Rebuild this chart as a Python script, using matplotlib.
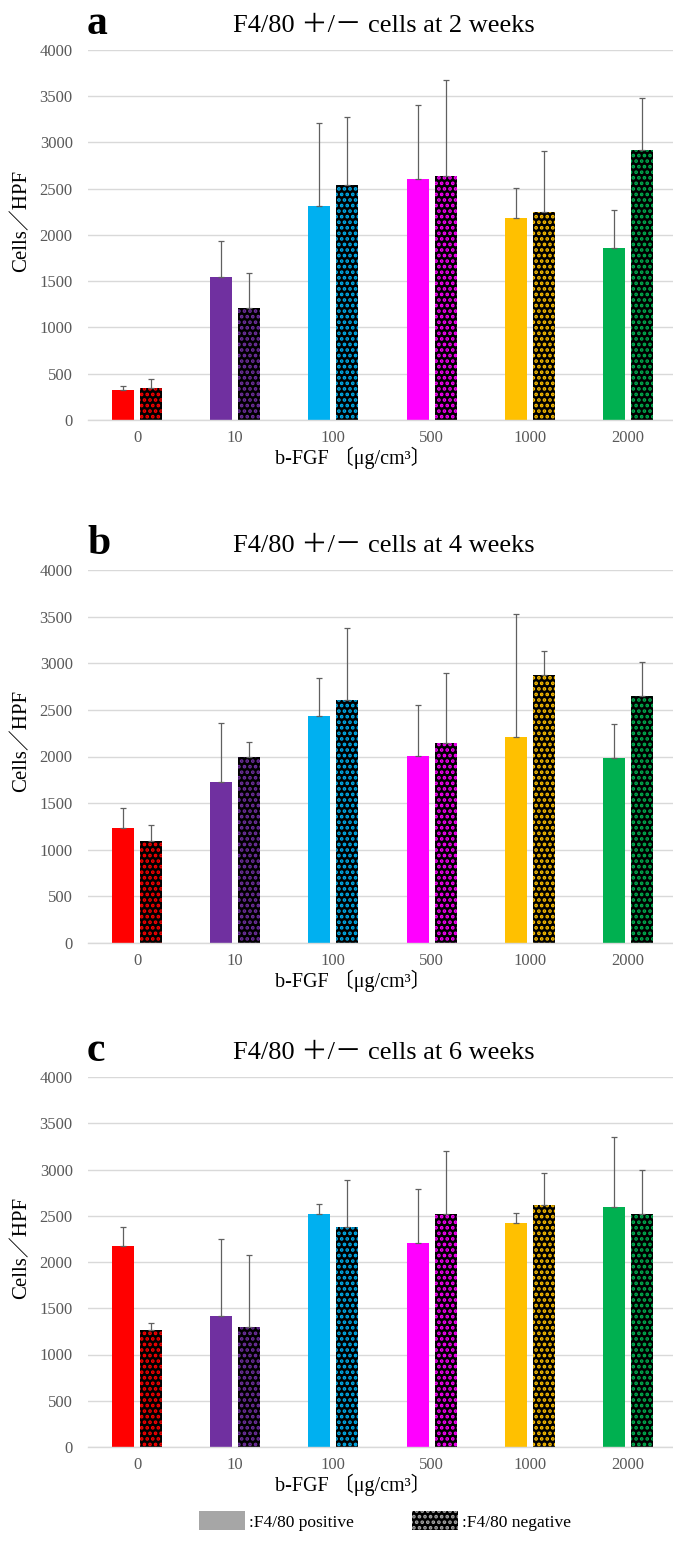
import matplotlib
matplotlib.use('Agg')
import matplotlib.pyplot as plt
from matplotlib.patches import Patch
import numpy as np

plt.rcParams['font.family'] = ['Liberation Serif', 'Noto Sans CJK JP']
plt.rcParams['hatch.linewidth'] = 1.8

# Data
doses = ['0', '10', '100', '500', '1000', '2000']
colors = ['#FF0000', '#7030A0', '#00B0F0', '#FF00FF', '#FFC000', '#00B050']
weeks = ['2', '4', '6']
panel_letters = ['a', 'b', 'c']

pos_2w = [320, 1550, 2310, 2600, 2180, 1860]
pos_2w_top = [370, 1930, 3210, 3400, 2510, 2270]
neg_2w = [350, 1210, 2540, 2640, 2250, 2920]
neg_2w_top = [440, 1590, 3280, 3680, 2910, 3480]

pos_4w = [1230, 1730, 2430, 2010, 2210, 1980]
pos_4w_top = [1450, 2360, 2840, 2550, 3530, 2350]
neg_4w = [1090, 1990, 2610, 2140, 2870, 2650]
neg_4w_top = [1270, 2160, 3380, 2900, 3130, 3010]

pos_6w = [2170, 1420, 2520, 2210, 2420, 2590]
pos_6w_top = [2380, 2250, 2630, 2790, 2530, 3350]
neg_6w = [1260, 1300, 2380, 2520, 2620, 2520]
neg_6w_top = [1340, 2080, 2890, 3200, 2960, 2990]

panels = [
    (pos_2w, pos_2w_top, neg_2w, neg_2w_top),
    (pos_4w, pos_4w_top, neg_4w, neg_4w_top),
    (pos_6w, pos_6w_top, neg_6w, neg_6w_top),
]

W, H = 673, 1542
fig = plt.figure(figsize=(W / 100, H / 100), dpi=100)

# pixel layout of each panel: (top of plot, bottom of plot)
panel_px = [(50, 420), (570, 943), (1077, 1447)]
left_px, right_px = 88, 677

x = np.arange(len(doses))
bw = 0.225
off = 0.143
tick_col = '#595959'
err_col = '#606060'

for i, (pos, pos_top, neg, neg_top) in enumerate(panels):
    top, bot = panel_px[i]
    ax = fig.add_axes([left_px / W, 1 - bot / H, (right_px - left_px) / W, (bot - top) / H])
    pos = np.array(pos)
    neg = np.array(neg)
    pos_err = np.array(pos_top) - pos
    neg_err = np.array(neg_top) - neg

    ax.bar(x - off, pos, bw, color=colors, zorder=3)
    ax.bar(x + off, neg, bw, color='black', edgecolor=colors, hatch='...',
           linewidth=0, zorder=3)
    ax.errorbar(x - off, pos, yerr=[np.zeros_like(pos_err), pos_err], fmt='none',
                ecolor=err_col, elinewidth=0.9, capsize=2, capthick=0.9, zorder=4)
    ax.errorbar(x + off, neg, yerr=[np.zeros_like(neg_err), neg_err], fmt='none',
                ecolor=err_col, elinewidth=0.9, capsize=2, capthick=0.9, zorder=4)

    ax.set_xlim(-0.5, 5.5)
    ax.set_ylim(0, 4000)
    ax.set_yticks(np.arange(0, 4001, 500))
    ax.set_xticks(x)
    ax.set_xticklabels(doses)
    ax.tick_params(axis='both', length=0, colors=tick_col, labelsize=12)
    ax.tick_params(axis='y', pad=11)
    ax.tick_params(axis='x', pad=7)
    ax.grid(axis='y', color='#D9D9D9', linewidth=1.0, zorder=0)
    for s in ['top', 'right', 'left']:
        ax.spines[s].set_visible(False)
    ax.spines['bottom'].set_color('#D9D9D9')
    ax.spines['bottom'].set_linewidth(1.0)
    ax.spines['bottom'].set_zorder(5)

    # titles and labels
    fig.text(384 / W, 1 - (top - 18) / H, f'F4/80 ＋/－ cells at {weeks[i]} weeks',
             ha='center', va='baseline', fontsize=19, color='black')
    fig.text(87 / W, 1 - (top - 16) / H, panel_letters[i], ha='left', va='baseline',
             fontsize=30, fontweight='bold', color='black')
    fig.text(353 / W, 1 - (bot + 38) / H, 'b-FGF 〔μg/cm³〕', ha='center', va='center',
             fontsize=14.5, color='black')
    fig.text(22 / W, 1 - (top + 171) / H, 'Cells／HPF', ha='center', va='center',
             rotation=90, fontsize=15, color='black')

# legend at the bottom
handles = [Patch(facecolor='#A6A6A6', linewidth=0),
           Patch(facecolor='black', edgecolor='#A6A6A6', hatch='...', linewidth=0)]
fig.legend(handles, [':F4/80 positive', ':F4/80 negative'], loc='center',
           bbox_to_anchor=(385 / W, 1 - 1521 / H), ncol=2, frameon=False,
           fontsize=12.5, handlelength=2.65, handleheight=1.3, handletextpad=0.25,
           columnspacing=3.3)

fig.savefig('out.png', dpi=100)
